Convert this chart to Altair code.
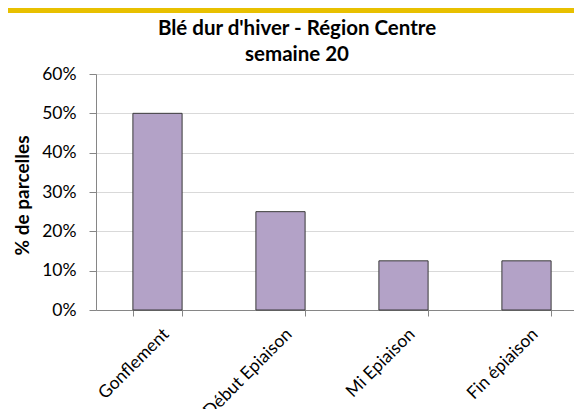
import altair as alt
import pandas as pd

categories = ["Gonflement", "Début Epiaison", "Mi Epiaison", "Fin épiaison"]
values = [0.50, 0.25, 0.125, 0.125]
title_lines = ["Blé dur d'hiver - Région Centre", "semaine 20"]
y_ticks = [0, 0.1, 0.2, 0.3, 0.4, 0.5, 0.6]

df = pd.DataFrame({"cat": categories, "val": values})
one = pd.DataFrame({"t1": [title_lines[0]], "t2": [title_lines[1]]})

FONT = "Lato"
W, H = 478, 236

bars = alt.Chart(df).mark_bar(
    color="#B3A2C7", stroke="#3a3a3a", strokeWidth=1
).encode(
    x=alt.X("cat:N", sort=categories, title=None,
            scale=alt.Scale(range=[0, 492], paddingInner=0.6, paddingOuter=0.3),
            axis=alt.Axis(labelAngle=-45, labelAlign="right", labelBaseline="top",
                          labelFont=FONT, labelFontSize=17.5, labelColor="#000000",
                          labelPadding=9, labelOffset=2, tickBand="extent", tickSize=6,
                          tickColor="#868686", domainColor="#868686", grid=False)),
    y=alt.Y("val:Q", title="% de parcelles",
            scale=alt.Scale(domain=[0, 0.6], nice=False),
            axis=alt.Axis(values=y_ticks, format=".0%", labelFont=FONT, labelFontSize=17.5,
                          labelColor="#000000", labelPadding=13, tickSize=7,
                          tickColor="#868686", domainColor="#868686",
                          gridColor="#d9d9d9", gridWidth=1,
                          titleFont=FONT, titleFontSize=19, titleFontWeight="bold",
                          titleColor="#000000", titleBaseline="middle",
                          titleX=-74, titleY=121, titleAngle=-90)),
)

gold = alt.Chart(one).mark_rect(color="#E8C000").encode(
    x=alt.value(-88), x2=alt.value(W), y=alt.value(-66), y2=alt.value(-61)
)

t1 = alt.Chart(one).mark_text(font=FONT, fontSize=20.5, fontWeight="bold", color="#000000",
                              align="center", baseline="alphabetic").encode(
    x=alt.value(201), y=alt.value(-39), text="t1:N")
t2 = alt.Chart(one).mark_text(font=FONT, fontSize=20.5, fontWeight="bold", color="#000000",
                              align="center", baseline="alphabetic").encode(
    x=alt.value(201), y=alt.value(-13), text="t2:N")

chart = alt.layer(bars, gold, t1, t2).properties(
    width=W, height=H,
    autosize=alt.AutoSizeParams(type="none"),
    padding={"left": 88, "top": 66, "right": 0, "bottom": 99},
).configure_view(stroke=None).configure(background="#ffffff")

chart.save("out.html", embed_options={"renderer": "svg", "actions": False})
